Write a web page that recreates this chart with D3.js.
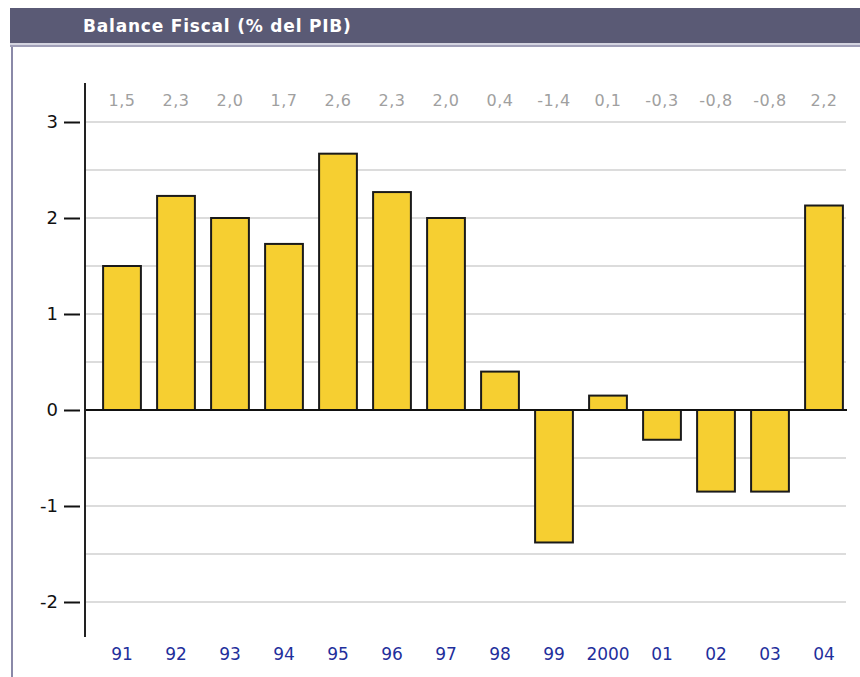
<!DOCTYPE html>
<html>
<head>
<meta charset="utf-8">
<script src="https://cdn.jsdelivr.net/npm/d3@7"></script>
<style>
  body { margin: 0; background: #fff; }
  svg { display: block; font-family: "DejaVu Sans", Verdana, sans-serif; }
</style>
</head>
<body>
<div id="chart"></div>
<script>
// data
var years = ["91", "92", "93", "94", "95", "96", "97", "98", "99", "2000", "01", "02", "03", "04"];
var balance = [1.5, 2.23, 2.0, 1.73, 2.67, 2.27, 2.0, 0.4, -1.38, 0.15, -0.31, -0.85, -0.85, 2.13];
var valueLabels = ["1,5", "2,3", "2,0", "1,7", "2,6", "2,3", "2,0", "0,4", "-1,4", "0,1", "-0,3", "-0,8", "-0,8", "2,2"];
var yTicks = [3, 2, 1, 0, -1, -2];
var gridLines = [3, 2.5, 2, 1.5, 1, 0.5, -0.5, -1, -1.5, -2];

var W = 860, H = 677;

var svg = d3.select("#chart")
  .append("svg")
    .attr("width", W)
    .attr("height", H);

// header bar
svg.append("rect")
  .attr("x", 10).attr("y", 8)
  .attr("width", W - 10).attr("height", 35)
  .attr("fill", "#5a5a75");
svg.append("rect")
  .attr("x", 10).attr("y", 43)
  .attr("width", W - 10).attr("height", 2)
  .attr("fill", "#d4d4e0");
svg.append("rect")
  .attr("x", 10).attr("y", 45)
  .attr("width", W - 10).attr("height", 2)
  .attr("fill", "#a09fb8");
// panel left border
svg.append("rect")
  .attr("x", 11).attr("y", 47)
  .attr("width", 2).attr("height", H - 47)
  .attr("fill", "#8a89a8");

svg.append("text")
  .attr("x", 83).attr("y", 32)
  .attr("fill", "#fff")
  .attr("font-weight", "bold")
  .attr("font-size", 17)
  .attr("letter-spacing", 0.8)
  .text("Balance Fiscal (% del PIB)");

// scales
var x = d3.scaleBand()
  .domain(years)
  .range([95, 851])
  .paddingInner(0.3)
  .paddingOuter(0.15);

var y = d3.scaleLinear()
  .domain([-2, 3])
  .range([602, 122]);

// gridlines
svg.append("g")
  .selectAll("line")
  .data(gridLines)
  .enter()
  .append("line")
    .attr("x1", 86).attr("x2", 846)
    .attr("y1", function(d) { return y(d); })
    .attr("y2", function(d) { return y(d); })
    .attr("stroke", "#dcdcdc")
    .attr("stroke-width", 2);

// bars
svg.append("g")
  .selectAll("rect")
  .data(balance)
  .enter()
  .append("rect")
    .attr("x", function(d, i) { return x(years[i]); })
    .attr("width", x.bandwidth())
    .attr("y", function(d) { return y(Math.max(0, d)); })
    .attr("height", function(d) { return Math.abs(y(d) - y(0)); })
    .attr("fill", "#f6cf31")
    .attr("stroke", "#1a1a1a")
    .attr("stroke-width", 2);

// zero line
svg.append("line")
  .attr("x1", 85).attr("x2", 847)
  .attr("y1", y(0)).attr("y2", y(0))
  .attr("stroke", "#111")
  .attr("stroke-width", 2);

// y axis
var yAxis = d3.axisLeft(y)
  .tickValues(yTicks)
  .tickSize(16)
  .tickPadding(6)
  .tickFormat(function(d) { return String(d); });

var gy = svg.append("g")
  .attr("transform", "translate(80,0)")
  .call(yAxis);
gy.select(".domain").remove();
gy.selectAll(".tick line").attr("stroke", "#111").attr("stroke-width", 2);
gy.selectAll(".tick text")
  .attr("fill", "#111")
  .attr("font-size", 18)
  .attr("font-family", "'DejaVu Sans', Verdana, sans-serif");

svg.append("line")
  .attr("x1", 85).attr("x2", 85)
  .attr("y1", 83).attr("y2", 637)
  .attr("stroke", "#222")
  .attr("stroke-width", 2);

// value labels on top
svg.append("g")
  .selectAll("text")
  .data(valueLabels)
  .enter()
  .append("text")
    .attr("x", function(d, i) { return x(years[i]) + x.bandwidth() / 2; })
    .attr("y", 106)
    .attr("text-anchor", "middle")
    .attr("fill", "#a0a0a0")
    .attr("font-size", 16)
    .attr("letter-spacing", 0.6)
    .text(function(d) { return d; });

// x axis labels
var xAxis = d3.axisBottom(x).tickSize(0).tickPadding(0);
var gx = svg.append("g")
  .attr("transform", "translate(0,648)")
  .call(xAxis);
gx.select(".domain").remove();
gx.selectAll(".tick text")
  .attr("fill", "#1f2f9c")
  .attr("font-size", 17)
  .attr("font-family", "'DejaVu Sans', Verdana, sans-serif");
</script>
</body>
</html>
